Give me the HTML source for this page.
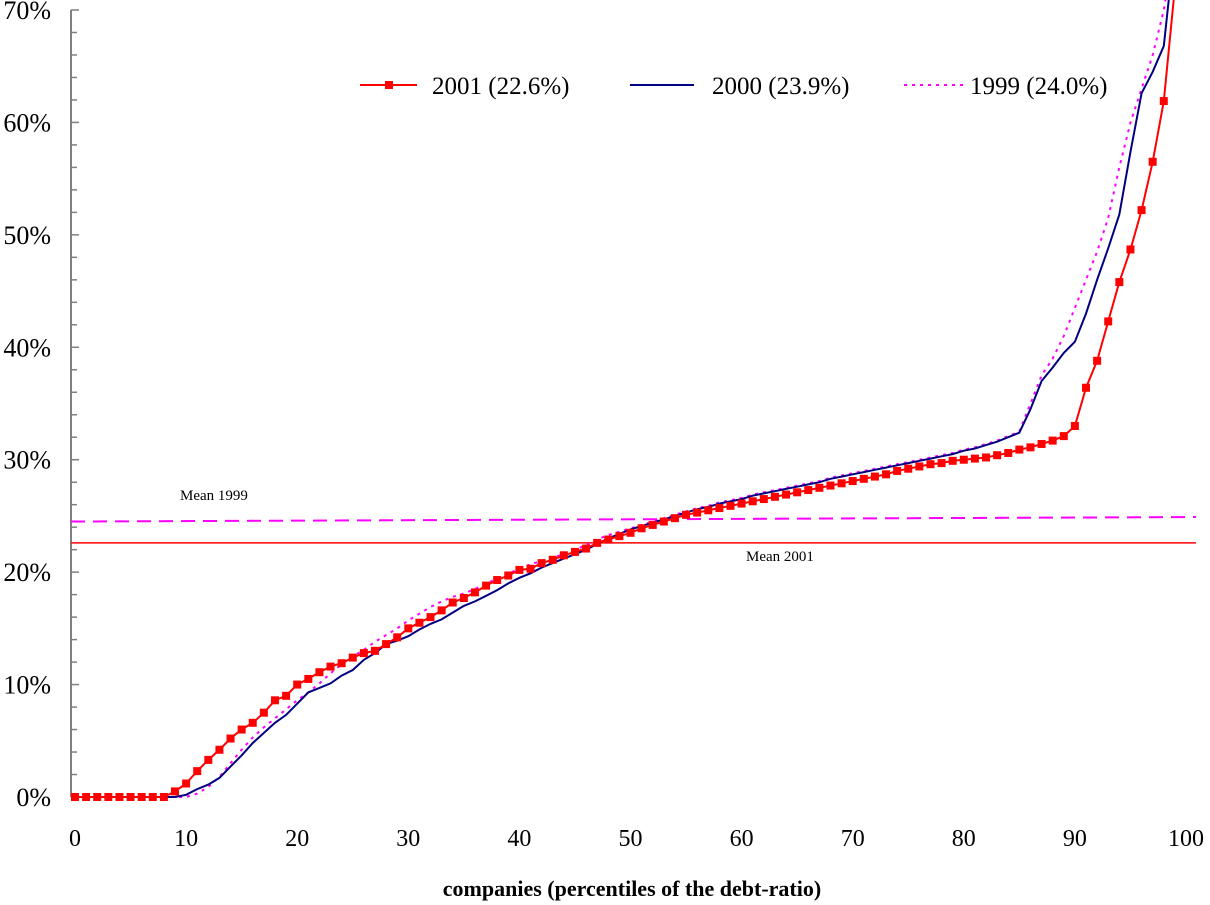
<!DOCTYPE html>
<html><head><meta charset="utf-8"><style>
html,body{margin:0;padding:0;background:#fff;}
svg{display:block;font-family:"Liberation Serif",serif;}
</style></head><body>
<svg id="chart" width="1210" height="905" viewBox="0 0 1210 905">
<g id="axes"></g>
<g id="means"></g>
<g id="series"></g>
<g id="legend">
  <g>
    <line x1="360" y1="85" x2="417" y2="85" stroke="#ff0000" stroke-width="2"/>
    <rect x="385" y="81" width="8" height="8" fill="#ff0000"/>
    <text x="432" y="94" font-size="25" fill="#000">2001 (22.6%)</text>
  </g>
  <g>
    <line x1="630" y1="85" x2="694" y2="85" stroke="#000080" stroke-width="2"/>
    <text x="712" y="94" font-size="25" fill="#000">2000 (23.9%)</text>
  </g>
  <g>
    <line x1="904" y1="85" x2="964" y2="85" stroke="#ff00ff" stroke-width="2" stroke-dasharray="3,5"/>
    <text x="970" y="94" font-size="25" fill="#000">1999 (24.0%)</text>
  </g>
</g>
<text x="632" y="896" font-size="22" font-weight="bold" text-anchor="middle">companies (percentiles of the debt-ratio)</text>
<text x="180" y="500" font-size="15">Mean 1999</text>
<text x="746" y="561" font-size="15">Mean 2001</text>
</svg>
<script>
const xTicks=[0,10,20,30,40,50,60,70,80,90,100];
const yTicks=[0,10,20,30,40,50,60,70];
const s2001=[0,0,0,0,0,0,0,0,0,0.5,1.2,2.3,3.3,4.2,5.2,6.0,6.6,7.5,8.6,9.0,10.0,10.5,11.1,11.6,11.9,12.4,12.8,13.0,13.6,14.2,15.0,15.5,16.0,16.6,17.3,17.7,18.2,18.8,19.3,19.7,20.2,20.3,20.8,21.1,21.5,21.8,22.1,22.6,22.9,23.2,23.5,23.9,24.2,24.5,24.8,25.1,25.3,25.5,25.7,25.9,26.1,26.3,26.5,26.7,26.9,27.1,27.3,27.5,27.7,27.9,28.1,28.3,28.5,28.7,29.0,29.2,29.4,29.6,29.7,29.9,30.0,30.1,30.2,30.4,30.6,30.9,31.1,31.4,31.7,32.1,33.0,36.4,38.8,42.3,45.8,48.7,52.2,56.5,61.9,72];
const s2000=[0,0,0,0,0,0,0,0,0,0,0.2,0.7,1.1,1.7,2.7,3.7,4.8,5.7,6.6,7.3,8.3,9.3,9.7,10.1,10.8,11.3,12.2,12.8,13.6,13.9,14.3,14.9,15.4,15.8,16.4,17.0,17.4,17.9,18.4,19.0,19.5,19.9,20.4,20.8,21.2,21.6,22.0,22.5,23.0,23.4,23.8,24.1,24.4,24.7,25.0,25.3,25.6,25.8,26.1,26.3,26.5,26.8,27.0,27.2,27.4,27.6,27.8,28.0,28.3,28.5,28.7,28.9,29.1,29.3,29.5,29.7,29.9,30.1,30.3,30.5,30.8,31.0,31.3,31.6,32.0,32.4,34.5,37.0,38.2,39.5,40.5,43.0,46.0,48.8,51.8,57.4,62.6,64.5,66.8,76];
const s1999=[0,0,0,0,0,0,0,0,0,0,0,0.3,0.9,1.8,3.0,4.2,5.3,6.2,7.0,7.8,8.6,9.3,10.1,11.0,11.8,12.5,13.1,13.8,14.4,15.0,15.7,16.3,16.9,17.4,17.8,18.1,18.5,19.0,19.4,19.9,20.3,20.7,21.0,21.3,21.6,22.0,22.4,22.9,23.3,23.6,23.9,24.2,24.5,24.8,25.1,25.4,25.7,25.9,26.2,26.4,26.6,26.9,27.1,27.3,27.5,27.7,27.9,28.1,28.4,28.6,28.8,29.0,29.2,29.4,29.6,29.8,30.0,30.2,30.4,30.6,30.9,31.1,31.4,31.7,32.1,32.5,35.0,37.5,39.0,41.0,43.5,46.0,48.5,51.5,56.0,60.0,63.0,66.0,70.0,76];
const mean1999=[24.5,24.9];
const mean2001=[22.6];
const NS='http://www.w3.org/2000/svg';
function xs(v){return 75+v*11.11;}
function ys(v){return 797-v*11.243;}
function mk(tag,attrs,parent){const e=document.createElementNS(NS,tag);for(const k in attrs)e.setAttribute(k,attrs[k]);parent.appendChild(e);return e;}
const axes=document.getElementById('axes');
const yl=mk('line',{x1:71,y1:ys(70),x2:71,y2:ys(0),stroke:'#808080','stroke-width':2},axes);


for(let p=0;p<=70;p+=2){
  const t=mk('line',{x1:71,y1:ys(p),x2:p%10===0?79:77,y2:ys(p),stroke:'#808080','stroke-width':1.5},axes);
  
  
}
yTicks.forEach(v=>{
  const t=mk('text',{x:51,y:ys(v)+9,'font-size':26,'text-anchor':'end'},axes);
  t.textContent=v+'%';
  
  
});
xTicks.forEach(v=>{
  const t=mk('text',{x:xs(v),y:846,'font-size':24,'text-anchor':'middle'},axes);
  t.textContent=v;
  
  
});
const means=document.getElementById('means');
const m1=mk('line',{x1:71,y1:ys(mean1999[0]),x2:1196,y2:ys(mean1999[1]),stroke:'#ff00ff','stroke-width':2,'stroke-dasharray':'14,8'},means);


const m2=mk('line',{x1:71,y1:ys(mean2001[0]),x2:1196,y2:ys(mean2001[0]),stroke:'#ff0000','stroke-width':1.5},means);


const ser=document.getElementById('series');
const defs=mk('defs',{},document.getElementById('chart'));
const cp=mk('clipPath',{id:'clip'},defs);
mk('rect',{x:0,y:0,width:1210,height:807},cp);
ser.setAttribute('clip-path','url(#clip)');
function pts(a){return a.map((v,i)=>xs(i).toFixed(1)+','+ys(v).toFixed(1)).join(' ');}
const l99=mk('polyline',{points:pts(s1999),fill:'none',stroke:'#ff00ff','stroke-width':2,'stroke-dasharray':'3,5'},ser);


const l00=mk('polyline',{points:pts(s2000),fill:'none',stroke:'#000080','stroke-width':2},ser);


const l01=mk('polyline',{points:pts(s2001),fill:'none',stroke:'#ff0000','stroke-width':2},ser);


s2001.forEach((v,i)=>{
  if(ys(v)<0)return;
  const r=mk('rect',{x:xs(i)-4,y:ys(v)-4,width:8,height:8,fill:'#ff0000'},ser);
  
  
});
</script>
</body></html>
